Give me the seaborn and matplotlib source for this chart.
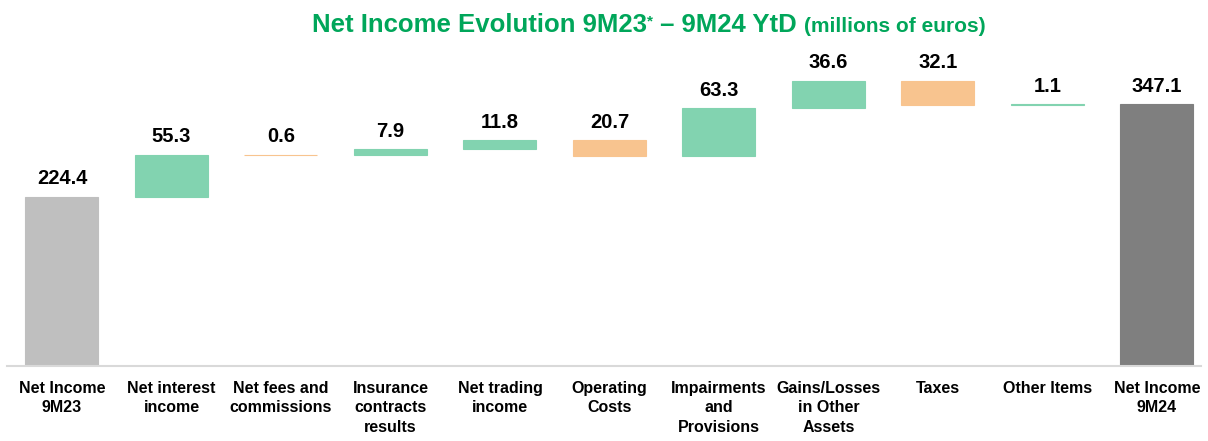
import matplotlib
matplotlib.use("Agg")
import matplotlib.pyplot as plt
import seaborn as sns
import pandas as pd
from matplotlib import font_manager

categories = ["Net Income\n9M23", "Net interest\nincome", "Net fees and\ncommissions",
              "Insurance\ncontracts\nresults", "Net trading\nincome", "Operating\nCosts",
              "Impairments\nand\nProvisions", "Gains/Losses\nin Other\nAssets", "Taxes",
              "Other Items", "Net Income\n9M24"]
changes = [224.4, 55.3, -0.6, 7.9, 11.8, -20.7, 63.3, 36.6, -32.1, 1.1, 347.1]
labels = ["224.4", "55.3", "0.6", "7.9", "11.8", "20.7", "63.3", "36.6", "32.1", "1.1", "347.1"]
kinds = ["start", "up", "down", "up", "up", "down", "up", "up", "down", "up", "end"]

colors = {"start": "#BFBFBF", "up": "#82D3B0", "down": "#F8C48F", "end": "#7F7F7F"}

# waterfall bases / tops
bases, tops = [], []
run = 0.0
for c, k in zip(changes, kinds):
    if k in ("start", "end"):
        bases.append(0.0); tops.append(c); run = c
    else:
        nxt = run + c
        bases.append(min(run, nxt)); tops.append(max(run, nxt)); run = nxt

df = pd.DataFrame({"cat": categories, "top": tops, "base": bases, "kind": kinds})

sns.set_theme(style="white")
avail = {f.name for f in font_manager.fontManager.ttflist}
fam = ["Liberation Sans Narrow"] if "Liberation Sans Narrow" in avail else ["Liberation Sans"]
plt.rcParams["font.family"] = fam + ["DejaVu Sans"]

W, H = 1208, 441
fig = plt.figure(figsize=(W / 100, H / 100), dpi=100)
ax = fig.add_axes([7 / W, 75 / H, 1194 / W, 316 / H])

pal = [colors[k] for k in kinds]
sns.barplot(data=df, x="cat", y="top", hue="cat", palette=pal, legend=False,
            width=0.667, ax=ax, linewidth=0.8, saturation=1)
# move bars to waterfall positions
for p, b, t, k in zip(ax.patches, bases, tops, kinds):
    p.set_y(b)
    p.set_height(t - b)
    p.set_edgecolor(colors[k])
    p.set_facecolor(colors[k])

for i, (t, lab) in enumerate(zip(tops, labels)):
    ax.annotate(lab, (i, t), xytext=(0, 6), textcoords="offset points",
                ha="center", va="bottom", fontsize=14.5, fontweight="bold", color="#000000")

ax.set_xlim(-0.502, 10.402)
ax.set_ylim(0, 418.5)
ax.set_xlabel("")
ax.set_ylabel("")
ax.set_yticks([])
ax.tick_params(axis="x", length=0, pad=11)
for lab in ax.get_xticklabels():
    lab.set_fontsize(11.5)
    lab.set_fontweight("bold")
    lab.set_color("#000000")
    lab.set_linespacing(1.35)
for s in ["top", "right", "left"]:
    ax.spines[s].set_visible(False)
ax.spines["bottom"].set_color("#D9D9D9")
ax.spines["bottom"].set_linewidth(1.5)

# title in pieces
green = "#00A65A"
fig.canvas.draw()
r = fig.canvas.get_renderer()
pieces = [("Net Income Evolution 9M23", 18.5, 0), ("*", 11, 7), (" \u2013 9M24 YtD ", 18.5, 0),
          ("(millions of euros)", 15, 0)]
x = 312
ybase = H - 32
for txt, fs, dy in pieces:
    t = fig.text(x / W, (ybase + dy) / H, txt, fontsize=fs, fontweight="bold",
                 color=green, ha="left", va="baseline")
    bb = t.get_window_extent(renderer=r)
    x += bb.width

fig.savefig("out.png", dpi=100)
